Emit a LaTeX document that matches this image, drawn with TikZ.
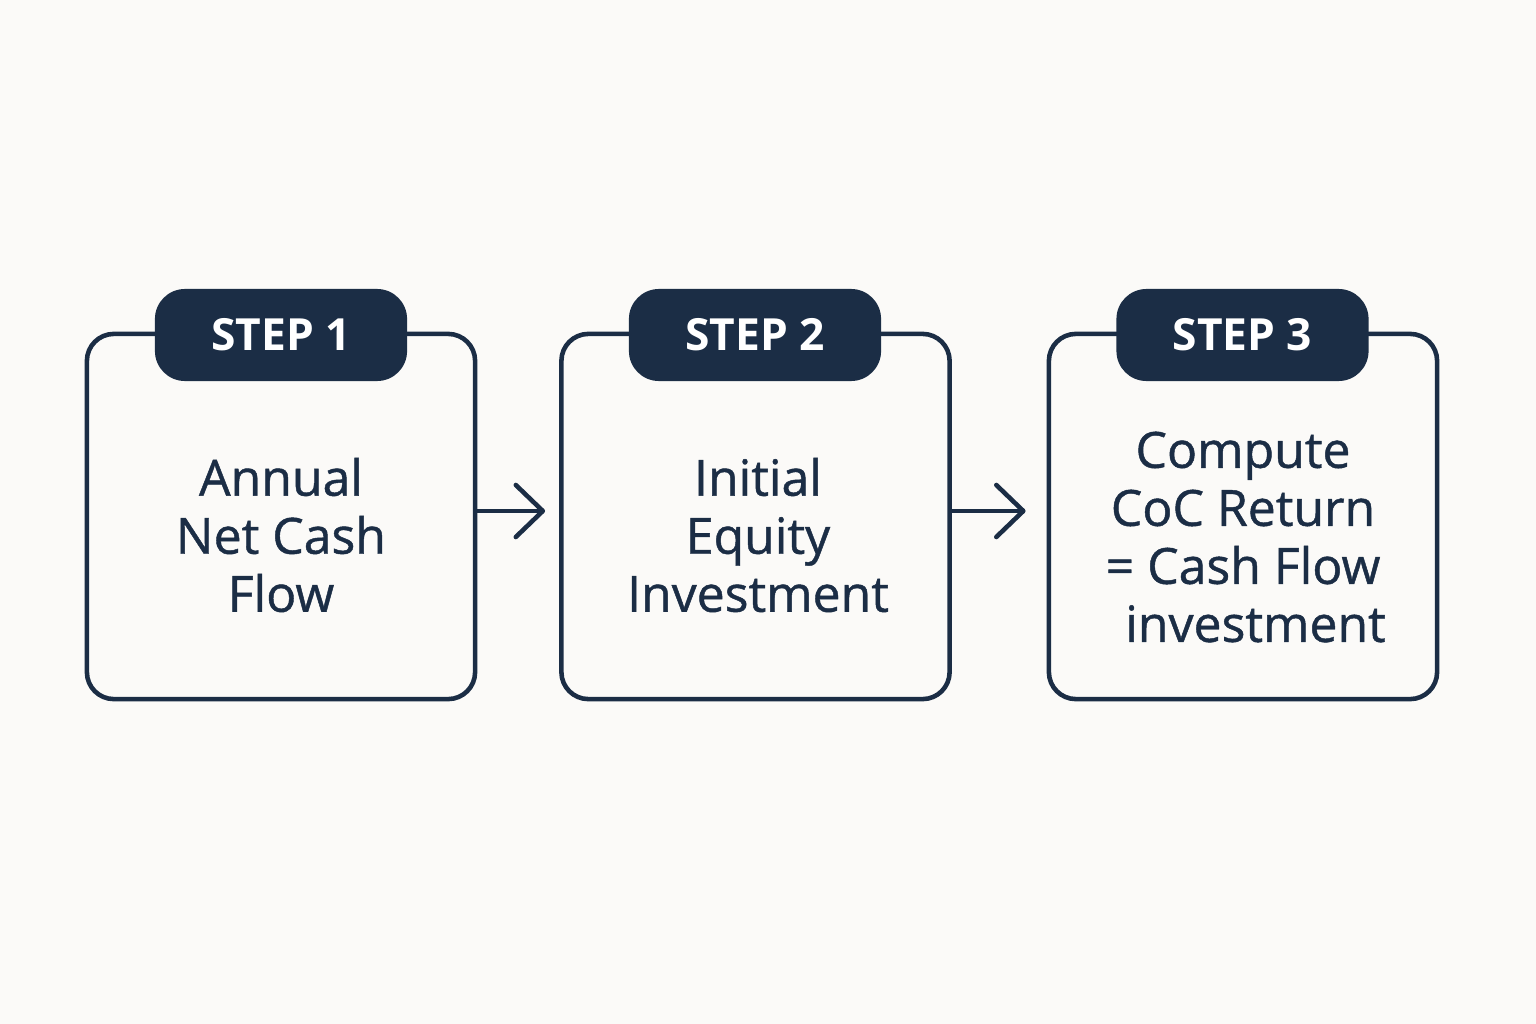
\documentclass[tikz,border=0pt]{standalone}
\usepackage{fontspec}
\setmainfont{Open Sans}
\newfontfamily\lblfont{Open Sans}[FakeBold=0.9]
\usetikzlibrary{arrows.meta}
\definecolor{navy}{HTML}{1B2D45}
\definecolor{paper}{HTML}{FBFAF8}

\begin{document}
\begin{tikzpicture}[x=0.01cm, y=-0.01cm,
    box/.style = {draw=navy, line width=1.3pt, rounded corners=0.27cm, minimum width=3.88cm, minimum height=3.65cm, fill=paper},
    tab/.style = {fill=navy, rounded corners=0.3cm, minimum width=2.52cm, minimum height=0.92cm, text=white, font=\bfseries\fontsize{12.6}{15}\selectfont},
    lbl/.style = {text=navy, align=center, font=\lblfont\fontsize{14.2}{16.5}\selectfont},
    flow/.style = {draw=navy, line width=1.3pt, -{Straight Barb[length=0.27cm, width=0.52cm, line cap=round, line join=round]}}]
    \fill[paper] (0,0) rectangle (1536,1024);

    \node[box] (B1) at (281,516.5) {};
    \node[box] (B2) at (755.5,516.5) {};
    \node[box] (B3) at (1243,516.5) {};

    \node[tab] (T1) at (281,335) {STEP 1};
    \node[tab] (T2) at (755,335) {STEP 2};
    \node[tab] (T3) at (1242.5,335) {STEP 3};

    \node[lbl] (L1) at (281,535) {Annual\\Net Cash\\Flow};
    \node[lbl] (L2) at (758,535) {Initial\\Equity\\Investment};
    \node[lbl] (L3) at (1243,537) {Compute\\CoC Return\\= Cash Flow\\\hspace*{0.25cm}investment};

    \draw[flow, shorten >=0.14cm] ([yshift=0.055cm]B1.east) -- ([yshift=0.055cm]B2.west);
    \draw[flow, shorten >=0.21cm] ([yshift=0.055cm]B2.east) -- ([yshift=0.055cm]B3.west);
\end{tikzpicture}
\end{document}
